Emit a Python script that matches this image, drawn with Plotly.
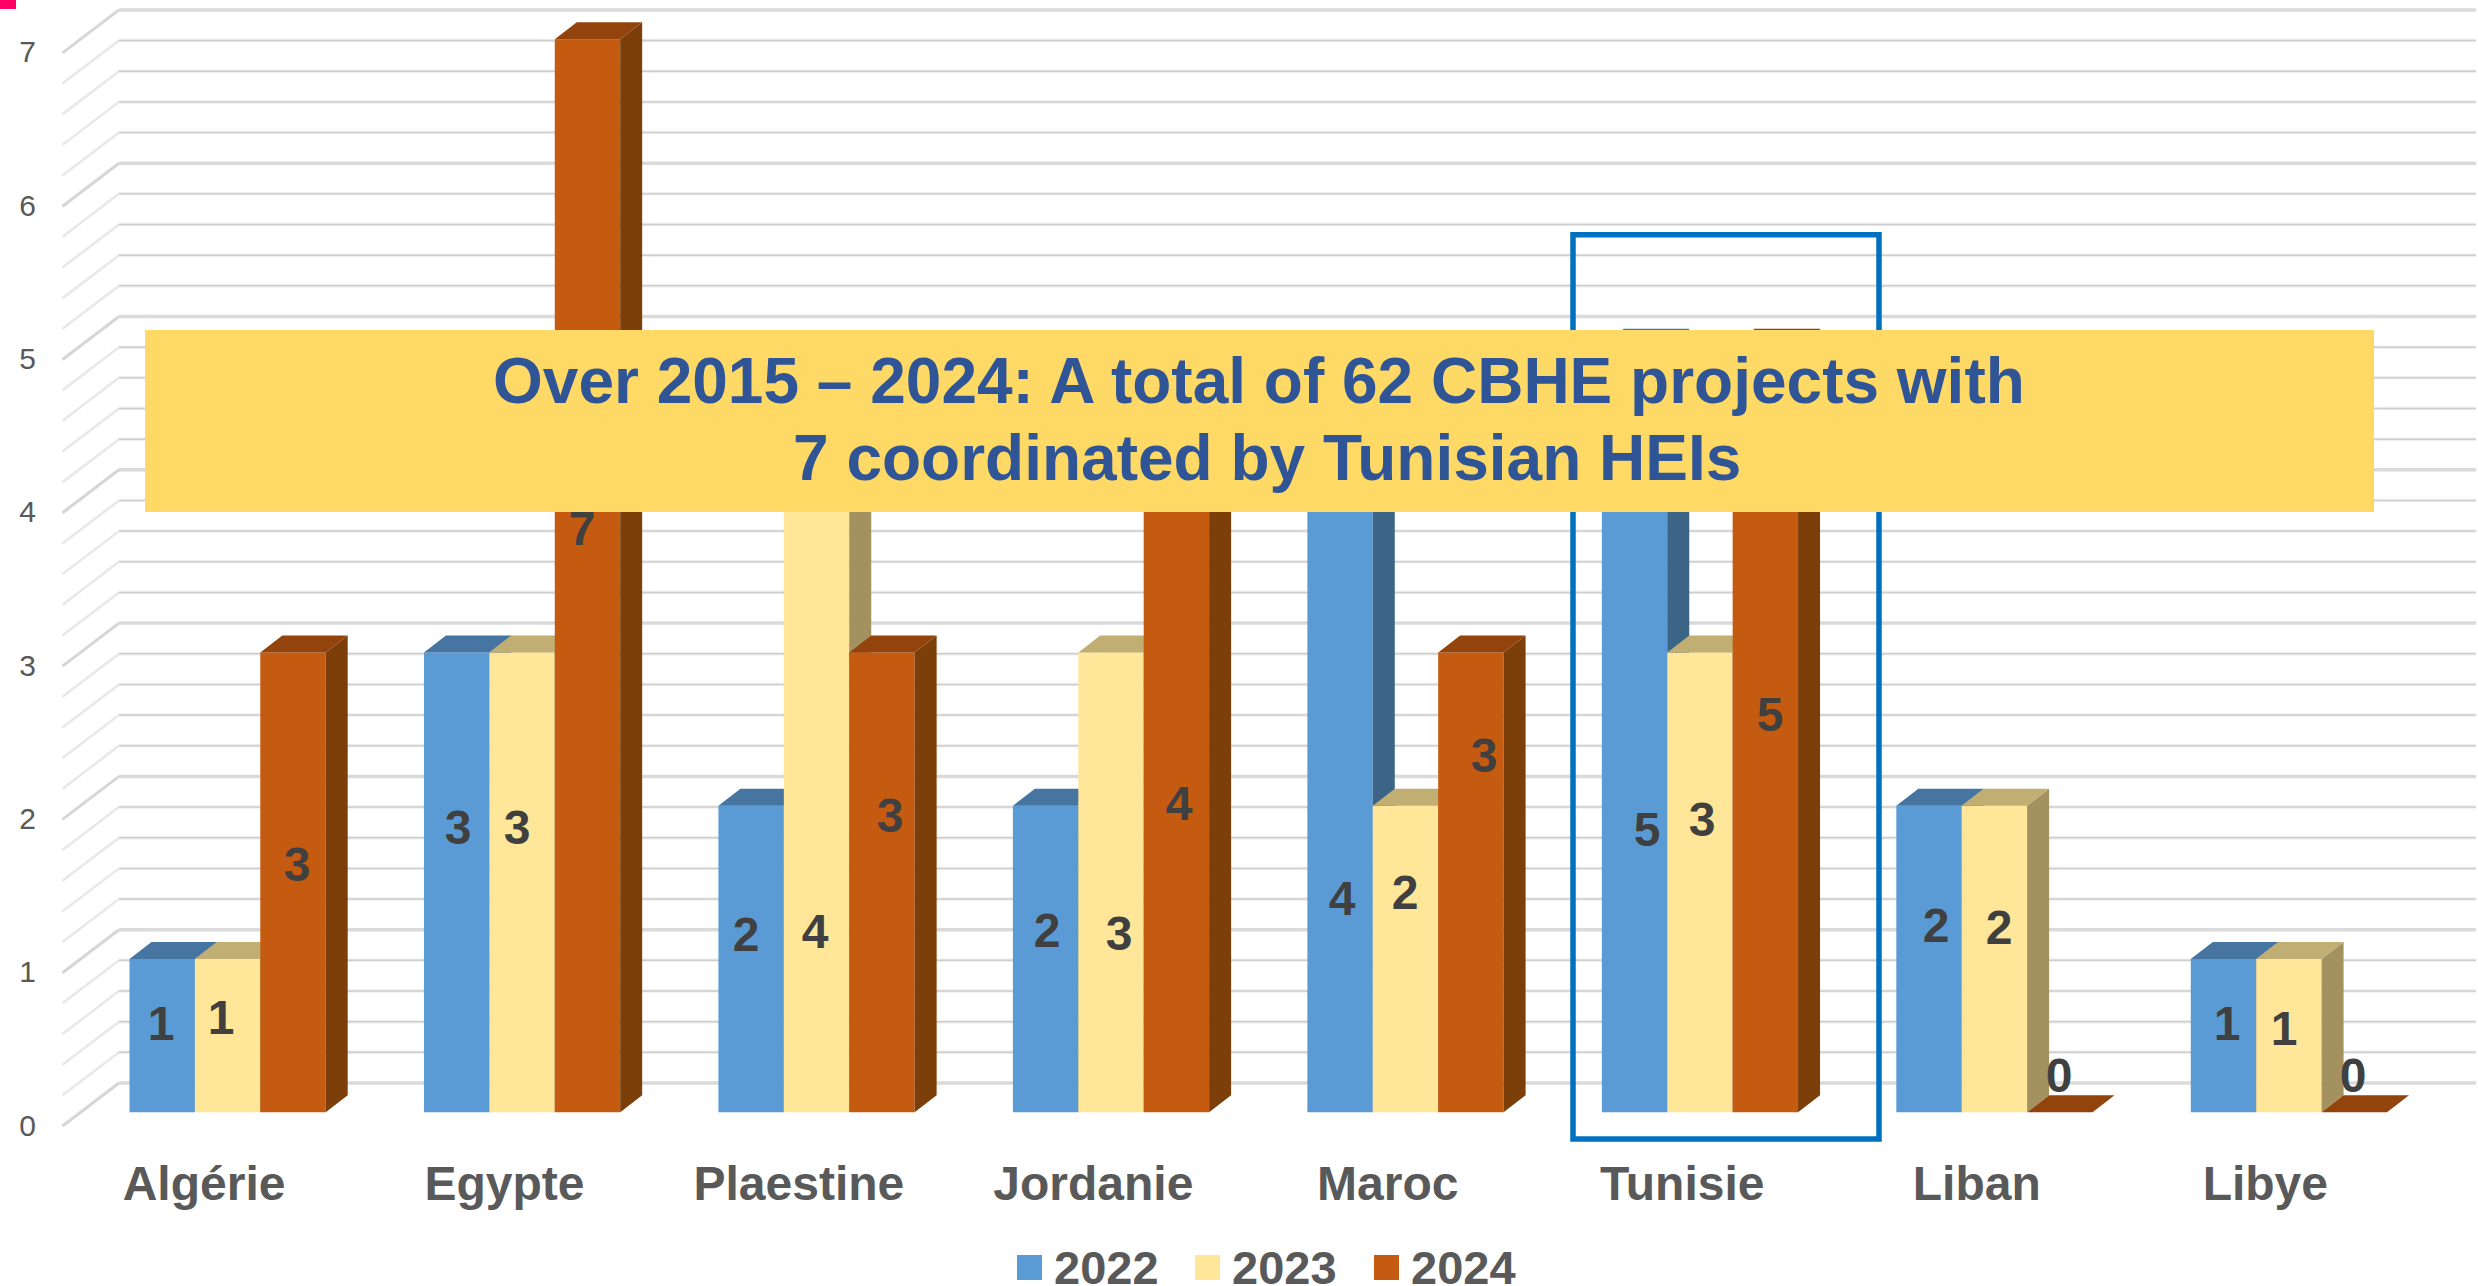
import plotly.graph_objects as go

# ---- data ----
categories = ["Algérie", "Egypte", "Plaestine", "Jordanie", "Maroc", "Tunisie", "Liban", "Libye"]
values_2022 = [1, 3, 2, 2, 4, 5, 2, 1]
values_2023 = [1, 3, 4, 3, 2, 3, 2, 1]
values_2024 = [3, 7, 3, 4, 3, 5, 0, 0]
y_ticks = [0, 1, 2, 3, 4, 5, 6, 7]
series_names = ["2022", "2023", "2024"]
headline = ["Over 2015 – 2024: A total of 62 CBHE projects with", "7 coordinated by Tunisian HEIs"]

# ---- styles ----
FRONT = ["#5B9BD5", "#FFE699", "#C55A11"]
TOP = ["#4575A0", "#C1AE73", "#93440D"]
SIDE = ["#3B6487", "#A39260", "#7D3F0A"]
FONT = "Liberation Sans"
GREY = "#595959"

# ---- layout geometry (pixels of the page) ----
W, H = 2478, 1286
PLOT_L, PLOT_B = 37, 1141
X0_PX, X_PITCH = 227.6, 294.47
Y0_PX, Y_UNIT = 1112.3, 153.3
BAR_W = 65.4 / X_PITCH
DX, DY = 22 / X_PITCH, 17 / Y_UNIT
TICK_SHIFT = [-0.08, -0.06, -0.06, -0.06, -0.06, -0.06, -0.06, -0.08]


def dx(p):
    return (p - X0_PX) / X_PITCH


def dy(p):
    return (Y0_PX - p) / Y_UNIT


def paper_x(p):
    return (p - PLOT_L) / (W - PLOT_L)


def paper_y(p):
    return 1 - p / PLOT_B


x_range = [dx(PLOT_L), dx(W)]
y_range = [dy(PLOT_B), dy(0)]
fig = go.Figure()

# ---- bars: each series on its own overlaid subplot so later fronts hide earlier sides ----
series = [values_2022, values_2023, values_2024]
for k, vals in enumerate(series):
    xa = "x" if k == 0 else f"x{k + 1}"
    ya = "y" if k == 0 else f"y{k + 1}"
    offset = (k - 1.5) * BAR_W
    fig.add_trace(go.Bar(x=list(range(len(categories))), y=vals, name=series_names[k], width=BAR_W,
                         offset=offset, marker=dict(color=FRONT[k], line=dict(width=0)),
                         xaxis=xa, yaxis=ya, showlegend=False))
    top_x, top_y, side_x, side_y = [], [], [], []
    for i, v in enumerate(vals):
        l = i + offset
        r = l + BAR_W
        top_x += [l, r, r + DX, l + DX, l, None]
        top_y += [v, v, v + DY, v + DY, v, None]
        side_x += [r, r + DX, r + DX, r, r, None]
        side_y += [0, DY, v + DY, v, 0, None]
    fig.add_trace(go.Scatter(x=side_x, y=side_y, mode="lines", fill="toself", fillcolor=SIDE[k],
                             line=dict(width=0), hoverinfo="skip", showlegend=False, xaxis=xa, yaxis=ya))
    fig.add_trace(go.Scatter(x=top_x, y=top_y, mode="lines", fill="toself", fillcolor=TOP[k],
                             line=dict(width=0), hoverinfo="skip", showlegend=False, xaxis=xa, yaxis=ya))

# ---- data labels: value from the series, placement ----
label_px_x = [[161, 458, 746, 1047, 1342, 1647, 1936, 2227],
              [221, 517, 815, 1119, 1405, 1702, 1999, 2284],
              [297, 582, 890, 1179, 1484, 1770, 2059, 2353]]
label_px_y = [[1028, 832, 939, 935, 903, 834, 930, 1028],
              [1022, 832, 936, 938, 897, 824, 932, 1033],
              [869, 533, 820, 808, 760, 719, 1080, 1080]]
for k, vals in enumerate(series):
    fig.add_trace(go.Scatter(x=[dx(p) for p in label_px_x[k]], y=[dy(p) for p in label_px_y[k]],
                             mode="text", text=[f"<b>{v}</b>" for v in vals], textposition="middle center",
                             textfont=dict(family=FONT, size=48, color="#404040"),
                             hoverinfo="skip", showlegend=False, xaxis="x4", yaxis="y4"))

# ---- walls and gridlines ----
shapes = []
back_l, back_r, wall_l = dx(119), dx(2476), dx(62.5)
wall_back, wall_front = (Y0_PX - 1083) / Y_UNIT, (Y0_PX - 1126) / Y_UNIT
for i in range(36):
    v = i / 5
    major = i % 5 == 0
    b = v + wall_back
    f = v + wall_front
    wall = dict(type="line", xref="x", yref="y", x0=wall_l, x1=back_l, y0=f, y1=b, layer="below")
    back = dict(type="line", xref="x", yref="y", x0=back_l, x1=back_r, y0=b, y1=b, layer="below")
    if major:
        shapes.append({**wall, "line": dict(color="#D6D6D6", width=3)})
        shapes.append({**back, "line": dict(color="#DADADA", width=3.5)})
    else:
        shapes.append({**wall, "line": dict(color="#E8E8E8", width=2.5)})
        shapes.append({**back, "line": dict(color="#F0F0F0", width=3.5)})
        shapes.append({**back, "line": dict(color="#CECECE", width=1.5)})

# ---- overlays ----
shapes.append(dict(type="rect", xref="paper", yref="paper", x0=paper_x(1573), x1=paper_x(1879),
                   y0=paper_y(1139), y1=paper_y(234.7), line=dict(color="#0070C0", width=5.5), layer="above"))
shapes.append(dict(type="rect", xref="paper", yref="paper", x0=paper_x(145), x1=paper_x(2374),
                   y0=paper_y(512), y1=paper_y(330), fillcolor="#FFD966", line=dict(width=0), layer="above"))
shapes.append(dict(type="rect", xref="paper", yref="paper", x0=paper_x(0), x1=paper_x(16),
                   y0=paper_y(9), y1=paper_y(0), fillcolor="#FF0066", line=dict(width=0), layer="above"))

annotations = []
for text, cx, cy in zip(headline, [1259, 1267], [380.5, 458]):
    annotations.append(dict(text=f"<b>{text}</b>", xref="paper", yref="paper", x=paper_x(cx), y=paper_y(cy),
                            xanchor="center", yanchor="middle", showarrow=False,
                            font=dict(family=FONT, size=64, color="#2F5597")))

# ---- legend row ----
legend_sq = [1017, 1195, 1374]
legend_tx = [1052, 1230, 1409]
for k, name in enumerate(series_names):
    shapes.append(dict(type="rect", xref="paper", yref="paper", x0=paper_x(legend_sq[k]),
                       x1=paper_x(legend_sq[k] + 25), y0=paper_y(1280), y1=paper_y(1255),
                       fillcolor=FRONT[k], line=dict(width=0), layer="above"))
    annotations.append(dict(text=f"<b>{name}</b>", xref="paper", yref="paper", x=paper_x(legend_tx[k]),
                            y=paper_y(1267), xanchor="left", yanchor="middle", showarrow=False,
                            font=dict(family=FONT, size=47, color=GREY)))

hidden = dict(visible=False, fixedrange=True)
layout = dict(
    width=W, height=H, margin=dict(l=PLOT_L, r=0, t=0, b=H - PLOT_B),
    paper_bgcolor="white", plot_bgcolor="rgba(0,0,0,0)", showlegend=False,
    shapes=shapes, annotations=annotations,
    xaxis=dict(range=x_range, tickmode="array", tickvals=[i + s for i, s in enumerate(TICK_SHIFT)],
               ticktext=[f"<b>{c}</b>" for c in categories], showgrid=False, zeroline=False, showline=False,
               ticks="outside", ticklen=0, tickcolor="rgba(0,0,0,0)",
               tickfont=dict(family=FONT, size=48, color=GREY), fixedrange=True),
    yaxis=dict(range=y_range, tickmode="array", tickvals=[v - 0.083 for v in y_ticks],
               ticktext=[str(v) for v in y_ticks], showgrid=False, zeroline=False, showline=False,
               tickfont=dict(family=FONT, size=30, color=GREY), fixedrange=True),
)
for n in (2, 3, 4):
    layout[f"xaxis{n}"] = dict(range=x_range, overlaying="x", **hidden)
    layout[f"yaxis{n}"] = dict(range=y_range, overlaying="y", **hidden)
fig.update_layout(**layout)

fig.write_html("out.html", config=dict(displayModeBar=False),
               post_script="document.body.style.margin='0';document.documentElement.style.overflow='hidden';")
